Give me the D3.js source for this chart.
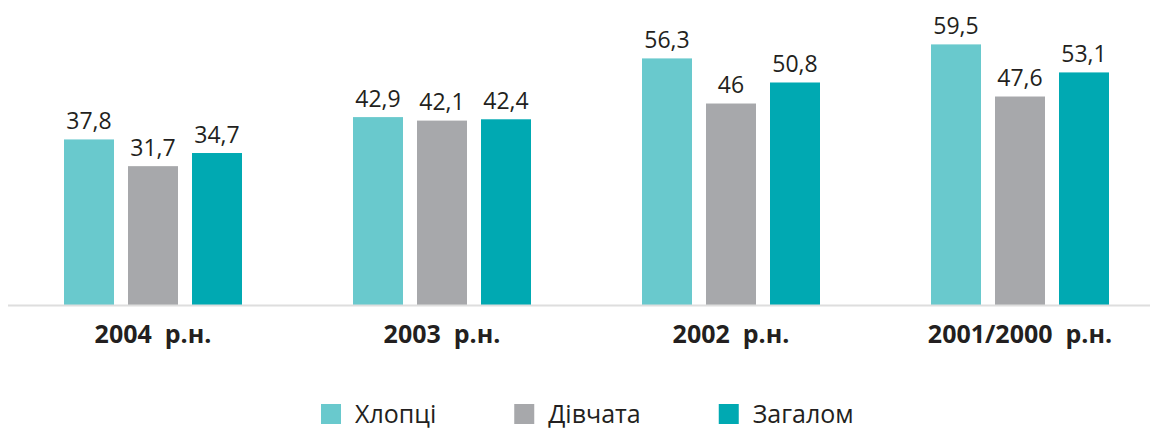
<!DOCTYPE html>
<meta charset="utf-8">
<style>
body { margin: 0; background: #fff; }
svg { display: block; font-family: "Open Sans", sans-serif; }
</style>
<body>
<svg width="1150" height="430"></svg>
</body>
<script src="https://d3js.org/d3.v7.min.js"></script>
<script>
// категорії (роки народження) і серії
var categories = ["2004  р.н.", "2003  р.н.", "2002  р.н.", "2001/2000  р.н."];
var seriesNames = ["Хлопці", "Дівчата", "Загалом"];
var boys  = [37.8, 42.9, 56.3, 59.5];
var girls = [31.7, 42.1, 46, 47.6];
var total = [34.7, 42.4, 50.8, 53.1];
var colors = ["#69c9cd", "#a7a8ab", "#00a9b2"];

var values = [boys, girls, total];
var rows = categories.map(function(c, i) {
  return { cat: c, vals: values.map(function(v, s) { return { key: s, value: v[i] }; }) };
});

var svg = d3.select("svg"),
    baseline = 305;

var x0 = d3.scaleBand()
    .domain(categories)
    .range([8.5, 8.5 + 4 * 289])
    .padding(0);

var x1 = d3.scaleBand()
    .domain(d3.range(seriesNames.length))
    .range([0, 178])
    .paddingInner(14 / 64)
    .paddingOuter(0);

var y = d3.scaleLinear()
    .domain([0, 60])
    .range([baseline, baseline - 60 * 4.38]);

var fmt = function(v) { return String(v).replace(".", ","); };

var group = svg.selectAll(".group")
  .data(rows)
  .enter().append("g")
    .attr("class", "group")
    .attr("transform", function(d) {
      return "translate(" + (x0(d.cat) + x0.bandwidth() / 2 - 89) + ",0)";
    });

group.selectAll("rect")
  .data(function(d) { return d.vals; })
  .enter().append("rect")
    .attr("x", function(d) { return x1(d.key); })
    .attr("y", function(d) { return y(d.value); })
    .attr("width", x1.bandwidth())
    .attr("height", function(d) { return y(0) - y(d.value); })
    .attr("fill", function(d) { return colors[d.key]; });

group.selectAll("text.val")
  .data(function(d) { return d.vals; })
  .enter().append("text")
    .attr("class", "val")
    .attr("x", function(d) { return x1(d.key) + x1.bandwidth() / 2; })
    .attr("y", function(d) { return y(d.value) - 10.5; })
    .attr("text-anchor", "middle")
    .attr("font-size", 23)
    .attr("fill", "#231f20")
    .text(function(d) { return fmt(d.value); });

// базова лінія
svg.append("line")
    .attr("x1", 8)
    .attr("x2", 1150)
    .attr("y1", baseline + 0.5)
    .attr("y2", baseline + 0.5)
    .attr("stroke", "#dedede")
    .attr("stroke-width", 2);

// підписи категорій
svg.selectAll("text.cat")
  .data(categories)
  .enter().append("text")
    .attr("class", "cat")
    .attr("x", function(d) { return x0(d) + x0.bandwidth() / 2; })
    .attr("y", 343)
    .attr("text-anchor", "middle")
    .attr("font-size", 25)
    .attr("font-weight", "bold")
    .attr("fill", "#231f20")
    .style("white-space", "pre")
    .text(function(d) { return d; });

// легенда
var legend = svg.append("g").attr("transform", "translate(321,0)");
var lx = 0;
seriesNames.forEach(function(name, i) {
  var item = legend.append("g").attr("transform", "translate(" + lx + ",0)");
  item.append("rect")
      .attr("x", 0)
      .attr("y", 404)
      .attr("width", 20)
      .attr("height", 20)
      .attr("fill", colors[i]);
  var t = item.append("text")
      .attr("x", 34)
      .attr("y", 423)
      .attr("font-size", 25)
      .attr("fill", "#231f20")
      .text(name);
  lx += 34 + t.node().getComputedTextLength() + 78;
});
</script>
